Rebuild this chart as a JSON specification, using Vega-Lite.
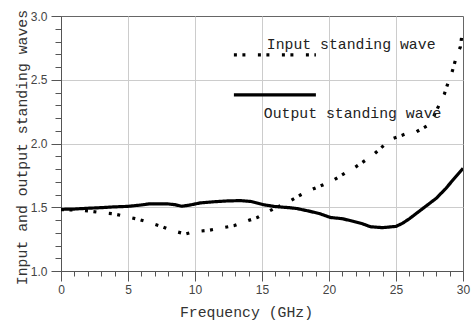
{
  "$schema": "https://vega.github.io/schema/vega-lite/v6.json",
  "width": 402,
  "height": 255,
  "autosize": {"type": "none"},
  "padding": {"left": 61, "top": 16, "right": 8, "bottom": 50},
  "background": "white",
  "config": {
    "view": {"stroke": "#666666", "strokeWidth": 1},
    "axis": {
      "domainColor": "#555555",
      "tickColor": "#555555",
      "gridColor": "#cccccc",
      "labelFont": "Liberation Sans",
      "labelFontSize": 12,
      "labelColor": "#444444",
      "titleFont": "Liberation Mono",
      "titleFontSize": 14.8,
      "titleFontWeight": "normal",
      "titleColor": "#333333"
    }
  },
  "data": {
    "values": [
      {"series": "Input standing wave", "f": 0, "v": 1.482},
      {"series": "Input standing wave", "f": 1, "v": 1.478},
      {"series": "Input standing wave", "f": 2.16, "v": 1.47},
      {"series": "Input standing wave", "f": 2.84, "v": 1.46},
      {"series": "Input standing wave", "f": 4.0, "v": 1.447},
      {"series": "Input standing wave", "f": 4.7, "v": 1.43},
      {"series": "Input standing wave", "f": 5.77, "v": 1.405},
      {"series": "Input standing wave", "f": 6.47, "v": 1.384},
      {"series": "Input standing wave", "f": 7.56, "v": 1.347},
      {"series": "Input standing wave", "f": 8.2, "v": 1.32},
      {"series": "Input standing wave", "f": 9.28, "v": 1.29},
      {"series": "Input standing wave", "f": 9.95, "v": 1.308},
      {"series": "Input standing wave", "f": 11.07, "v": 1.32},
      {"series": "Input standing wave", "f": 11.8, "v": 1.334},
      {"series": "Input standing wave", "f": 12.9, "v": 1.355},
      {"series": "Input standing wave", "f": 13.56, "v": 1.38},
      {"series": "Input standing wave", "f": 14.65, "v": 1.42},
      {"series": "Input standing wave", "f": 15.3, "v": 1.457},
      {"series": "Input standing wave", "f": 16.1, "v": 1.5},
      {"series": "Input standing wave", "f": 16.9, "v": 1.538},
      {"series": "Input standing wave", "f": 17.9, "v": 1.598},
      {"series": "Input standing wave", "f": 18.5, "v": 1.63},
      {"series": "Input standing wave", "f": 19.65, "v": 1.68},
      {"series": "Input standing wave", "f": 20.25, "v": 1.708},
      {"series": "Input standing wave", "f": 21.24, "v": 1.77},
      {"series": "Input standing wave", "f": 21.9, "v": 1.81},
      {"series": "Input standing wave", "f": 22.75, "v": 1.87},
      {"series": "Input standing wave", "f": 23.36, "v": 1.916},
      {"series": "Input standing wave", "f": 24.2, "v": 1.995},
      {"series": "Input standing wave", "f": 24.8, "v": 2.04},
      {"series": "Input standing wave", "f": 25.85, "v": 2.08},
      {"series": "Input standing wave", "f": 26.5, "v": 2.09},
      {"series": "Input standing wave", "f": 27.5, "v": 2.15},
      {"series": "Input standing wave", "f": 27.8, "v": 2.21},
      {"series": "Input standing wave", "f": 28.3, "v": 2.32},
      {"series": "Input standing wave", "f": 28.6, "v": 2.385},
      {"series": "Input standing wave", "f": 28.96, "v": 2.5},
      {"series": "Input standing wave", "f": 29.2, "v": 2.566},
      {"series": "Input standing wave", "f": 29.5, "v": 2.678},
      {"series": "Input standing wave", "f": 29.8, "v": 2.757},
      {"series": "Input standing wave", "f": 29.95, "v": 2.875},
      {"series": "Input standing wave", "f": 30, "v": 2.9},
      {"series": "Output standing wave", "f": 0, "v": 1.484},
      {"series": "Output standing wave", "f": 1, "v": 1.486},
      {"series": "Output standing wave", "f": 2, "v": 1.492},
      {"series": "Output standing wave", "f": 3, "v": 1.497},
      {"series": "Output standing wave", "f": 4, "v": 1.503},
      {"series": "Output standing wave", "f": 5, "v": 1.507},
      {"series": "Output standing wave", "f": 6, "v": 1.518},
      {"series": "Output standing wave", "f": 6.6, "v": 1.527},
      {"series": "Output standing wave", "f": 7.9, "v": 1.527},
      {"series": "Output standing wave", "f": 8.5, "v": 1.52},
      {"series": "Output standing wave", "f": 9, "v": 1.508},
      {"series": "Output standing wave", "f": 9.5, "v": 1.515},
      {"series": "Output standing wave", "f": 10.4, "v": 1.534},
      {"series": "Output standing wave", "f": 11.4, "v": 1.543},
      {"series": "Output standing wave", "f": 12.5, "v": 1.55},
      {"series": "Output standing wave", "f": 13.4, "v": 1.552},
      {"series": "Output standing wave", "f": 14.2, "v": 1.545},
      {"series": "Output standing wave", "f": 15.1, "v": 1.52},
      {"series": "Output standing wave", "f": 16, "v": 1.505},
      {"series": "Output standing wave", "f": 17, "v": 1.497},
      {"series": "Output standing wave", "f": 17.6, "v": 1.49},
      {"series": "Output standing wave", "f": 18.5, "v": 1.47},
      {"series": "Output standing wave", "f": 19.3, "v": 1.45},
      {"series": "Output standing wave", "f": 20.1, "v": 1.42},
      {"series": "Output standing wave", "f": 21, "v": 1.41},
      {"series": "Output standing wave", "f": 21.8, "v": 1.39},
      {"series": "Output standing wave", "f": 22.5, "v": 1.37},
      {"series": "Output standing wave", "f": 23.1, "v": 1.347},
      {"series": "Output standing wave", "f": 24, "v": 1.34},
      {"series": "Output standing wave", "f": 25, "v": 1.35},
      {"series": "Output standing wave", "f": 25.5, "v": 1.375},
      {"series": "Output standing wave", "f": 26, "v": 1.41},
      {"series": "Output standing wave", "f": 27, "v": 1.49},
      {"series": "Output standing wave", "f": 28, "v": 1.57},
      {"series": "Output standing wave", "f": 28.7, "v": 1.645},
      {"series": "Output standing wave", "f": 29.3, "v": 1.72},
      {"series": "Output standing wave", "f": 30, "v": 1.805}
    ]
  },
  "mark": {"type": "line", "color": "black", "strokeWidth": 3.2, "strokeCap": "butt", "clip": true},
  "encoding": {
    "x": {
      "field": "f",
      "type": "quantitative",
      "scale": {"domain": [0, 30], "nice": false, "zero": false},
      "axis": {
        "title": "Frequency (GHz)",
        "values": [0,1,2,3,4,5,6,7,8,9,10,11,12,13,14,15,16,17,18,19,20,21,22,23,24,25,26,27,28,29,30],
        "labelExpr": "datum.value % 5 === 0 ? datum.label : ''",
        "tickSize": {"condition": {"test": "datum.value % 5 === 0", "value": 10}, "value": 5},
        "gridOpacity": {"condition": {"test": "datum.value % 5 === 0 && datum.value > 0 && datum.value < 30", "value": 1}, "value": 0},
        "labelPadding": 3,
        "labelFlush": false,
        "titleX": 185,
        "titleY": 41,
        "titleBaseline": "middle"
      }
    },
    "y": {
      "field": "v",
      "type": "quantitative",
      "scale": {"domain": [1, 3], "nice": false, "zero": false},
      "axis": {
        "title": "Input and output standing waves",
        "values": [1.0,1.1,1.2,1.3,1.4,1.5,1.6,1.7,1.8,1.9,2.0,2.1,2.2,2.3,2.4,2.5,2.6,2.7,2.8,2.9,3.0],
        "format": ".1f",
        "labelExpr": "abs(datum.value * 2 - round(datum.value * 2)) < 0.001 ? datum.label : ''",
        "tickSize": {"condition": {"test": "abs(datum.value * 2 - round(datum.value * 2)) < 0.001", "value": 10}, "value": 6},
        "gridOpacity": {"condition": {"test": "abs(datum.value * 2 - round(datum.value * 2)) < 0.001 && datum.value > 1.01 && datum.value < 2.99", "value": 1}, "value": 0},
        "labelPadding": 4,
        "labelFlush": false,
        "titleX": -39,
        "titleY": 131,
        "titleBaseline": "middle",
        "titleAngle": -90
      }
    },
    "strokeDash": {
      "field": "series",
      "type": "nominal",
      "scale": {
        "domain": ["Input standing wave", "Output standing wave"],
        "range": [[3, 5.5, 3, 12.5], [1, 0]]
      },
      "legend": {
        "title": null,
        "orient": "none",
        "legendX": 165.5,
        "legendY": 31.5,
        "symbolType": "M0,0H16.4",
        "symbolSize": 100,
        "symbolStrokeWidth": 3.2,
        "symbolStrokeColor": "black",
        "symbolFillColor": "transparent",
        "labelFont": "Liberation Mono",
        "labelFontSize": 14.8,
        "labelColor": "#222222",
        "labelOffset": 25.5,
        "labelLimit": 300,
        "rowPadding": 26,
        "encode": {
          "labels": {
            "update": {
              "dy": {"signal": "datum.value === 'Input standing wave' ? -10 : 19"},
              "dx": {"signal": "datum.value === 'Input standing wave' ? 0 : -3"}
            }
          }
        }
      }
    }
  }
}
